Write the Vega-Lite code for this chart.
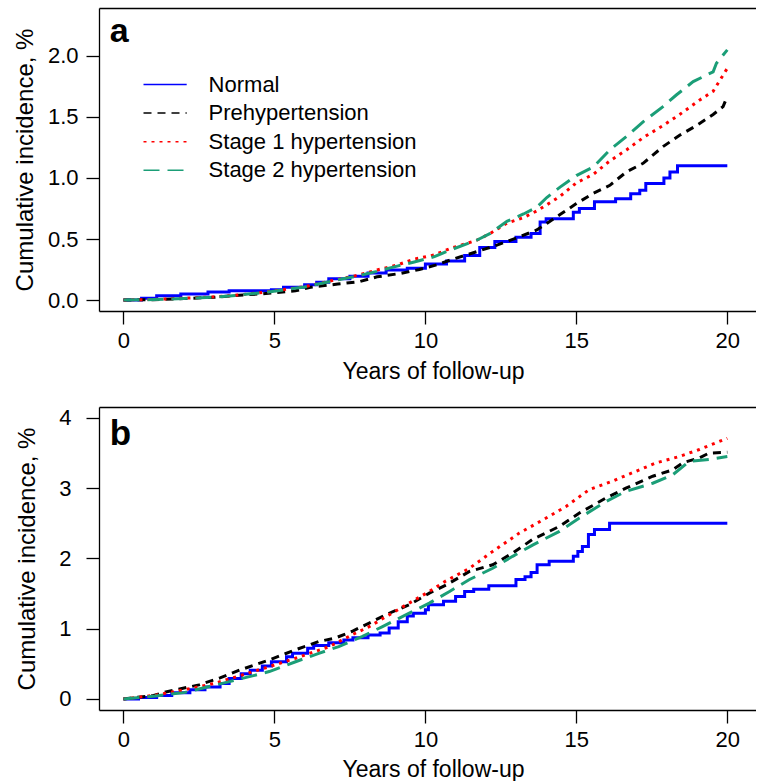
{
  "$schema": "https://vega.github.io/schema/vega-lite/v6.json",
  "padding": {"left": 13, "top": 8, "right": 0, "bottom": 0},
  "config": {
    "font": "Liberation Sans",
    "view": {"stroke": null},
    "axis": {"grid": false, "domainColor": "black", "domainWidth": 1.3, "tickColor": "black", "tickWidth": 1.3, "tickSize": 13, "labelColor": "black", "labelFontSize": 22, "titleColor": "black", "titleFontSize": 23, "titleFontWeight": "normal", "labelFlush": false}
  },
  "datasets": {
    "a": [
      {"group": "Normal", "year": 0, "inc": 0}, {"group": "Normal", "year": 0.6, "inc": 0.014}, {"group": "Normal", "year": 1.1, "inc": 0.035}, {"group": "Normal", "year": 1.9, "inc": 0.05}, {"group": "Normal", "year": 2.8, "inc": 0.065}, {"group": "Normal", "year": 3.5, "inc": 0.076}, {"group": "Normal", "year": 4.9, "inc": 0.085}, {"group": "Normal", "year": 5.3, "inc": 0.105}, {"group": "Normal", "year": 6.0, "inc": 0.125}, {"group": "Normal", "year": 6.4, "inc": 0.145}, {"group": "Normal", "year": 6.8, "inc": 0.175}, {"group": "Normal", "year": 7.5, "inc": 0.195}, {"group": "Normal", "year": 8.1, "inc": 0.222}, {"group": "Normal", "year": 8.7, "inc": 0.245}, {"group": "Normal", "year": 9.4, "inc": 0.26}, {"group": "Normal", "year": 10.0, "inc": 0.295}, {"group": "Normal", "year": 10.7, "inc": 0.32}, {"group": "Normal", "year": 11.3, "inc": 0.365}, {"group": "Normal", "year": 11.8, "inc": 0.43}, {"group": "Normal", "year": 12.3, "inc": 0.48}, {"group": "Normal", "year": 13.0, "inc": 0.515}, {"group": "Normal", "year": 13.5, "inc": 0.545}, {"group": "Normal", "year": 13.8, "inc": 0.64}, {"group": "Normal", "year": 14.0, "inc": 0.665}, {"group": "Normal", "year": 14.9, "inc": 0.72}, {"group": "Normal", "year": 15.1, "inc": 0.75}, {"group": "Normal", "year": 15.6, "inc": 0.805}, {"group": "Normal", "year": 16.3, "inc": 0.83}, {"group": "Normal", "year": 16.8, "inc": 0.87}, {"group": "Normal", "year": 17.1, "inc": 0.9}, {"group": "Normal", "year": 17.3, "inc": 0.955}, {"group": "Normal", "year": 17.9, "inc": 1.0}, {"group": "Normal", "year": 18.1, "inc": 1.05}, {"group": "Normal", "year": 18.35, "inc": 1.1}, {"group": "Normal", "year": 20, "inc": 1.1},
      {"group": "Prehypertension", "year": 0, "inc": 0}, {"group": "Prehypertension", "year": 1, "inc": 0.003}, {"group": "Prehypertension", "year": 2, "inc": 0.012}, {"group": "Prehypertension", "year": 3, "inc": 0.022}, {"group": "Prehypertension", "year": 3.5, "inc": 0.033}, {"group": "Prehypertension", "year": 4.8, "inc": 0.055}, {"group": "Prehypertension", "year": 5.7, "inc": 0.076}, {"group": "Prehypertension", "year": 6.2, "inc": 0.105}, {"group": "Prehypertension", "year": 7.1, "inc": 0.131}, {"group": "Prehypertension", "year": 7.8, "inc": 0.15}, {"group": "Prehypertension", "year": 8.4, "inc": 0.19}, {"group": "Prehypertension", "year": 9.2, "inc": 0.219}, {"group": "Prehypertension", "year": 9.8, "inc": 0.25}, {"group": "Prehypertension", "year": 10.4, "inc": 0.29}, {"group": "Prehypertension", "year": 10.83, "inc": 0.328}, {"group": "Prehypertension", "year": 11.7, "inc": 0.396}, {"group": "Prehypertension", "year": 12.37, "inc": 0.45}, {"group": "Prehypertension", "year": 13.14, "inc": 0.52}, {"group": "Prehypertension", "year": 13.69, "inc": 0.574}, {"group": "Prehypertension", "year": 14.02, "inc": 0.628}, {"group": "Prehypertension", "year": 14.46, "inc": 0.7}, {"group": "Prehypertension", "year": 15.0, "inc": 0.79}, {"group": "Prehypertension", "year": 15.56, "inc": 0.874}, {"group": "Prehypertension", "year": 16.11, "inc": 0.94}, {"group": "Prehypertension", "year": 16.66, "inc": 1.05}, {"group": "Prehypertension", "year": 17.21, "inc": 1.12}, {"group": "Prehypertension", "year": 17.87, "inc": 1.257}, {"group": "Prehypertension", "year": 18.42, "inc": 1.35}, {"group": "Prehypertension", "year": 18.98, "inc": 1.43}, {"group": "Prehypertension", "year": 19.53, "inc": 1.52}, {"group": "Prehypertension", "year": 19.86, "inc": 1.585}, {"group": "Prehypertension", "year": 20, "inc": 1.67},
      {"group": "Stage 1 hypertension", "year": 0, "inc": 0}, {"group": "Stage 1 hypertension", "year": 1, "inc": 0.005}, {"group": "Stage 1 hypertension", "year": 2, "inc": 0.015}, {"group": "Stage 1 hypertension", "year": 3, "inc": 0.026}, {"group": "Stage 1 hypertension", "year": 3.5, "inc": 0.033}, {"group": "Stage 1 hypertension", "year": 4.8, "inc": 0.068}, {"group": "Stage 1 hypertension", "year": 6.0, "inc": 0.109}, {"group": "Stage 1 hypertension", "year": 7.0, "inc": 0.164}, {"group": "Stage 1 hypertension", "year": 7.8, "inc": 0.205}, {"group": "Stage 1 hypertension", "year": 8.4, "inc": 0.246}, {"group": "Stage 1 hypertension", "year": 9.1, "inc": 0.29}, {"group": "Stage 1 hypertension", "year": 9.6, "inc": 0.333}, {"group": "Stage 1 hypertension", "year": 10.3, "inc": 0.37}, {"group": "Stage 1 hypertension", "year": 10.83, "inc": 0.423}, {"group": "Stage 1 hypertension", "year": 11.7, "inc": 0.49}, {"group": "Stage 1 hypertension", "year": 12.15, "inc": 0.546}, {"group": "Stage 1 hypertension", "year": 12.7, "inc": 0.63}, {"group": "Stage 1 hypertension", "year": 13.25, "inc": 0.675}, {"group": "Stage 1 hypertension", "year": 13.69, "inc": 0.73}, {"group": "Stage 1 hypertension", "year": 14.02, "inc": 0.78}, {"group": "Stage 1 hypertension", "year": 14.46, "inc": 0.85}, {"group": "Stage 1 hypertension", "year": 15.0, "inc": 0.96}, {"group": "Stage 1 hypertension", "year": 15.56, "inc": 1.03}, {"group": "Stage 1 hypertension", "year": 16.11, "inc": 1.14}, {"group": "Stage 1 hypertension", "year": 16.66, "inc": 1.23}, {"group": "Stage 1 hypertension", "year": 17.21, "inc": 1.33}, {"group": "Stage 1 hypertension", "year": 17.87, "inc": 1.43}, {"group": "Stage 1 hypertension", "year": 18.42, "inc": 1.52}, {"group": "Stage 1 hypertension", "year": 19.09, "inc": 1.64}, {"group": "Stage 1 hypertension", "year": 19.53, "inc": 1.71}, {"group": "Stage 1 hypertension", "year": 20, "inc": 1.9},
      {"group": "Stage 2 hypertension", "year": 0, "inc": 0}, {"group": "Stage 2 hypertension", "year": 1, "inc": 0.004}, {"group": "Stage 2 hypertension", "year": 2, "inc": 0.013}, {"group": "Stage 2 hypertension", "year": 3, "inc": 0.024}, {"group": "Stage 2 hypertension", "year": 3.5, "inc": 0.032}, {"group": "Stage 2 hypertension", "year": 4.8, "inc": 0.066}, {"group": "Stage 2 hypertension", "year": 6.0, "inc": 0.107}, {"group": "Stage 2 hypertension", "year": 7.0, "inc": 0.16}, {"group": "Stage 2 hypertension", "year": 7.8, "inc": 0.2}, {"group": "Stage 2 hypertension", "year": 8.4, "inc": 0.235}, {"group": "Stage 2 hypertension", "year": 9.1, "inc": 0.28}, {"group": "Stage 2 hypertension", "year": 9.6, "inc": 0.31}, {"group": "Stage 2 hypertension", "year": 10.3, "inc": 0.355}, {"group": "Stage 2 hypertension", "year": 10.83, "inc": 0.41}, {"group": "Stage 2 hypertension", "year": 11.7, "inc": 0.49}, {"group": "Stage 2 hypertension", "year": 12.15, "inc": 0.546}, {"group": "Stage 2 hypertension", "year": 12.7, "inc": 0.645}, {"group": "Stage 2 hypertension", "year": 13.25, "inc": 0.705}, {"group": "Stage 2 hypertension", "year": 13.69, "inc": 0.76}, {"group": "Stage 2 hypertension", "year": 14.02, "inc": 0.84}, {"group": "Stage 2 hypertension", "year": 14.46, "inc": 0.925}, {"group": "Stage 2 hypertension", "year": 15.0, "inc": 1.02}, {"group": "Stage 2 hypertension", "year": 15.56, "inc": 1.09}, {"group": "Stage 2 hypertension", "year": 16.11, "inc": 1.23}, {"group": "Stage 2 hypertension", "year": 16.66, "inc": 1.34}, {"group": "Stage 2 hypertension", "year": 17.21, "inc": 1.46}, {"group": "Stage 2 hypertension", "year": 17.87, "inc": 1.585}, {"group": "Stage 2 hypertension", "year": 18.31, "inc": 1.68}, {"group": "Stage 2 hypertension", "year": 18.87, "inc": 1.79}, {"group": "Stage 2 hypertension", "year": 19.53, "inc": 1.87}, {"group": "Stage 2 hypertension", "year": 19.64, "inc": 1.94}, {"group": "Stage 2 hypertension", "year": 20, "inc": 2.05}
    ],
    "b": [
      {"group": "Normal", "year": 0, "inc": 0}, {"group": "Normal", "year": 0.5, "inc": 0.02}, {"group": "Normal", "year": 1.1, "inc": 0.05}, {"group": "Normal", "year": 1.6, "inc": 0.09}, {"group": "Normal", "year": 2.2, "inc": 0.13}, {"group": "Normal", "year": 2.7, "inc": 0.17}, {"group": "Normal", "year": 3.2, "inc": 0.22}, {"group": "Normal", "year": 3.5, "inc": 0.29}, {"group": "Normal", "year": 3.9, "inc": 0.36}, {"group": "Normal", "year": 4.2, "inc": 0.41}, {"group": "Normal", "year": 4.6, "inc": 0.47}, {"group": "Normal", "year": 4.9, "inc": 0.53}, {"group": "Normal", "year": 5.4, "inc": 0.6}, {"group": "Normal", "year": 5.6, "inc": 0.65}, {"group": "Normal", "year": 6.1, "inc": 0.72}, {"group": "Normal", "year": 6.3, "inc": 0.76}, {"group": "Normal", "year": 6.8, "inc": 0.8}, {"group": "Normal", "year": 7.3, "inc": 0.84}, {"group": "Normal", "year": 7.6, "inc": 0.87}, {"group": "Normal", "year": 8.1, "inc": 0.91}, {"group": "Normal", "year": 8.5, "inc": 0.94}, {"group": "Normal", "year": 8.8, "inc": 1.01}, {"group": "Normal", "year": 9.1, "inc": 1.1}, {"group": "Normal", "year": 9.4, "inc": 1.18}, {"group": "Normal", "year": 9.6, "inc": 1.22}, {"group": "Normal", "year": 10.0, "inc": 1.27}, {"group": "Normal", "year": 10.1, "inc": 1.34}, {"group": "Normal", "year": 10.6, "inc": 1.39}, {"group": "Normal", "year": 11.0, "inc": 1.46}, {"group": "Normal", "year": 11.3, "inc": 1.53}, {"group": "Normal", "year": 11.6, "inc": 1.56}, {"group": "Normal", "year": 12.1, "inc": 1.61}, {"group": "Normal", "year": 13.0, "inc": 1.7}, {"group": "Normal", "year": 13.3, "inc": 1.74}, {"group": "Normal", "year": 13.5, "inc": 1.8}, {"group": "Normal", "year": 13.7, "inc": 1.91}, {"group": "Normal", "year": 14.1, "inc": 1.96}, {"group": "Normal", "year": 14.9, "inc": 2.03}, {"group": "Normal", "year": 15.05, "inc": 2.1}, {"group": "Normal", "year": 15.2, "inc": 2.17}, {"group": "Normal", "year": 15.4, "inc": 2.34}, {"group": "Normal", "year": 15.6, "inc": 2.41}, {"group": "Normal", "year": 16.1, "inc": 2.5}, {"group": "Normal", "year": 20, "inc": 2.5},
      {"group": "Prehypertension", "year": 0, "inc": 0}, {"group": "Prehypertension", "year": 1, "inc": 0.05}, {"group": "Prehypertension", "year": 1.4, "inc": 0.1}, {"group": "Prehypertension", "year": 2.5, "inc": 0.2}, {"group": "Prehypertension", "year": 3.2, "inc": 0.3}, {"group": "Prehypertension", "year": 3.84, "inc": 0.41}, {"group": "Prehypertension", "year": 4.83, "inc": 0.556}, {"group": "Prehypertension", "year": 5.7, "inc": 0.7}, {"group": "Prehypertension", "year": 6.47, "inc": 0.817}, {"group": "Prehypertension", "year": 7.0, "inc": 0.865}, {"group": "Prehypertension", "year": 7.56, "inc": 0.96}, {"group": "Prehypertension", "year": 8.14, "inc": 1.08}, {"group": "Prehypertension", "year": 8.8, "inc": 1.22}, {"group": "Prehypertension", "year": 9.46, "inc": 1.34}, {"group": "Prehypertension", "year": 10.13, "inc": 1.506}, {"group": "Prehypertension", "year": 10.68, "inc": 1.62}, {"group": "Prehypertension", "year": 11.46, "inc": 1.815}, {"group": "Prehypertension", "year": 12.23, "inc": 1.91}, {"group": "Prehypertension", "year": 12.89, "inc": 2.076}, {"group": "Prehypertension", "year": 13.55, "inc": 2.27}, {"group": "Prehypertension", "year": 14.44, "inc": 2.456}, {"group": "Prehypertension", "year": 15.1, "inc": 2.646}, {"group": "Prehypertension", "year": 15.98, "inc": 2.86}, {"group": "Prehypertension", "year": 16.64, "inc": 3.0}, {"group": "Prehypertension", "year": 17.53, "inc": 3.17}, {"group": "Prehypertension", "year": 18.19, "inc": 3.26}, {"group": "Prehypertension", "year": 18.52, "inc": 3.36}, {"group": "Prehypertension", "year": 19.07, "inc": 3.43}, {"group": "Prehypertension", "year": 19.4, "inc": 3.5}, {"group": "Prehypertension", "year": 20, "inc": 3.51},
      {"group": "Stage 1 hypertension", "year": 0, "inc": 0}, {"group": "Stage 1 hypertension", "year": 1, "inc": 0.05}, {"group": "Stage 1 hypertension", "year": 2, "inc": 0.13}, {"group": "Stage 1 hypertension", "year": 3, "inc": 0.22}, {"group": "Stage 1 hypertension", "year": 4, "inc": 0.35}, {"group": "Stage 1 hypertension", "year": 4.83, "inc": 0.46}, {"group": "Stage 1 hypertension", "year": 5.7, "inc": 0.58}, {"group": "Stage 1 hypertension", "year": 6.82, "inc": 0.745}, {"group": "Stage 1 hypertension", "year": 7.56, "inc": 0.91}, {"group": "Stage 1 hypertension", "year": 8.14, "inc": 1.03}, {"group": "Stage 1 hypertension", "year": 8.8, "inc": 1.197}, {"group": "Stage 1 hypertension", "year": 9.46, "inc": 1.364}, {"group": "Stage 1 hypertension", "year": 10.13, "inc": 1.53}, {"group": "Stage 1 hypertension", "year": 10.68, "inc": 1.68}, {"group": "Stage 1 hypertension", "year": 11.46, "inc": 1.86}, {"group": "Stage 1 hypertension", "year": 12.23, "inc": 2.1}, {"group": "Stage 1 hypertension", "year": 13.11, "inc": 2.36}, {"group": "Stage 1 hypertension", "year": 14, "inc": 2.575}, {"group": "Stage 1 hypertension", "year": 14.66, "inc": 2.74}, {"group": "Stage 1 hypertension", "year": 15.43, "inc": 2.98}, {"group": "Stage 1 hypertension", "year": 16.2, "inc": 3.1}, {"group": "Stage 1 hypertension", "year": 16.86, "inc": 3.22}, {"group": "Stage 1 hypertension", "year": 17.64, "inc": 3.36}, {"group": "Stage 1 hypertension", "year": 18.41, "inc": 3.45}, {"group": "Stage 1 hypertension", "year": 19.07, "inc": 3.55}, {"group": "Stage 1 hypertension", "year": 20, "inc": 3.71},
      {"group": "Stage 2 hypertension", "year": 0, "inc": 0}, {"group": "Stage 2 hypertension", "year": 1, "inc": 0.04}, {"group": "Stage 2 hypertension", "year": 2, "inc": 0.09}, {"group": "Stage 2 hypertension", "year": 3.51, "inc": 0.247}, {"group": "Stage 2 hypertension", "year": 4.17, "inc": 0.318}, {"group": "Stage 2 hypertension", "year": 4.83, "inc": 0.39}, {"group": "Stage 2 hypertension", "year": 5.7, "inc": 0.53}, {"group": "Stage 2 hypertension", "year": 6.47, "inc": 0.65}, {"group": "Stage 2 hypertension", "year": 7.13, "inc": 0.745}, {"group": "Stage 2 hypertension", "year": 7.9, "inc": 0.888}, {"group": "Stage 2 hypertension", "year": 8.58, "inc": 1.03}, {"group": "Stage 2 hypertension", "year": 9.35, "inc": 1.197}, {"group": "Stage 2 hypertension", "year": 10.13, "inc": 1.364}, {"group": "Stage 2 hypertension", "year": 10.8, "inc": 1.53}, {"group": "Stage 2 hypertension", "year": 11.46, "inc": 1.7}, {"group": "Stage 2 hypertension", "year": 12.23, "inc": 1.86}, {"group": "Stage 2 hypertension", "year": 12.89, "inc": 2.03}, {"group": "Stage 2 hypertension", "year": 13.55, "inc": 2.19}, {"group": "Stage 2 hypertension", "year": 14.44, "inc": 2.385}, {"group": "Stage 2 hypertension", "year": 15.1, "inc": 2.575}, {"group": "Stage 2 hypertension", "year": 15.98, "inc": 2.81}, {"group": "Stage 2 hypertension", "year": 16.64, "inc": 2.955}, {"group": "Stage 2 hypertension", "year": 17.53, "inc": 3.07}, {"group": "Stage 2 hypertension", "year": 18.19, "inc": 3.19}, {"group": "Stage 2 hypertension", "year": 18.74, "inc": 3.38}, {"group": "Stage 2 hypertension", "year": 19.4, "inc": 3.41}, {"group": "Stage 2 hypertension", "year": 20, "inc": 3.45}
    ]
  },
  "spacing": 96,
  "bounds": "flush",
  "resolve": {"legend": {"color": "independent", "strokeDash": "independent"}},
  "vconcat": [
    {
      "width": 657,
      "height": 303,
      "layer": [
        {
          "data": {"name": "a"},
          "transform": [{"filter": "datum.group === 'Normal'"}],
          "mark": {"type": "line", "interpolate": "step-after", "strokeWidth": 3},
          "encoding": {
            "x": {"field": "year", "type": "quantitative", "scale": {"domain": [-0.81, 20.95], "nice": false, "zero": false}, "axis": {"orient": "top", "domain": true, "ticks": false, "labels": false, "title": null}},
            "y": {"field": "inc", "type": "quantitative", "scale": {"domain": [-0.09, 2.393], "nice": false, "zero": false}, "axis": {"orient": "left", "values": [0, 0.5, 1, 1.5, 2], "format": ".1f", "labelPadding": 8, "title": "Cumulative incidence, %", "titleFontSize": 24, "titlePadding": 10}},
            "color": {"field": "group", "type": "nominal", "scale": {"domain": ["Normal", "Prehypertension", "Stage 1 hypertension", "Stage 2 hypertension"], "range": ["#0000FF", "#000000", "#FF0000", "#1B9E77"]}, "legend": {"orient": "none", "legendX": 51.6, "legendY": 62, "title": null, "labelFontSize": 22, "labelColor": "black", "symbolType": "M-1.6,0H1.6", "symbolSize": 729, "symbolStrokeWidth": 1.5, "labelOffset": 29, "rowPadding": 2.6, "padding": 0, "labelLimit": 0}},
            "strokeDash": {"field": "group", "type": "nominal", "scale": {"domain": ["Normal", "Prehypertension", "Stage 1 hypertension", "Stage 2 hypertension"], "range": [[1, 0], [8, 6], [3, 5], [16, 8]]}, "legend": {"orient": "none", "legendX": 51.6, "legendY": 62, "title": null, "labelFontSize": 22, "labelColor": "black", "symbolType": "M-1.6,0H1.6", "symbolSize": 729, "symbolStrokeWidth": 1.5, "labelOffset": 29, "rowPadding": 2.6, "padding": 0, "labelLimit": 0}}
          }
        },
        {
          "data": {"name": "a"},
          "transform": [{"filter": "datum.group !== 'Normal'"}],
          "mark": {"type": "line", "strokeWidth": 3},
          "encoding": {
            "x": {"field": "year", "type": "quantitative", "axis": {"orient": "bottom", "values": [0, 5, 10, 15, 20], "labelPadding": 6, "title": "Years of follow-up", "titleX": 334, "titleY": 67, "titleBaseline": "alphabetic"}},
            "y": {"field": "inc", "type": "quantitative", "axis": null},
            "color": {"field": "group", "type": "nominal"},
            "strokeDash": {"field": "group", "type": "nominal"}
          }
        },
        {
          "data": {"values": [{}]},
          "mark": {"type": "text", "text": "a", "fontSize": 34, "fontWeight": "bold", "align": "left", "baseline": "alphabetic", "color": "black"},
          "encoding": {
            "x": {"datum": -0.45, "type": "quantitative", "axis": null},
            "y": {"datum": 2.117, "type": "quantitative", "axis": null}
          }
        }
      ],
      "resolve": {"axis": {"x": "independent", "y": "independent"}}
    },
    {
      "width": 657,
      "height": 303,
      "layer": [
        {
          "data": {"name": "b"},
          "transform": [{"filter": "datum.group === 'Normal'"}],
          "mark": {"type": "line", "interpolate": "step-after", "strokeWidth": 3},
          "encoding": {
            "x": {"field": "year", "type": "quantitative", "scale": {"domain": [-0.81, 20.95], "nice": false, "zero": false}, "axis": {"orient": "top", "domain": true, "ticks": false, "labels": false, "title": null}},
            "y": {"field": "inc", "type": "quantitative", "scale": {"domain": [-0.157, 4.155], "nice": false, "zero": false}, "axis": {"orient": "left", "values": [0, 1, 2, 3, 4], "format": "d", "labelPadding": 15, "title": "Cumulative incidence, %", "titleFontSize": 24, "titlePadding": 19}},
            "color": {"field": "group", "type": "nominal", "scale": {"domain": ["Normal", "Prehypertension", "Stage 1 hypertension", "Stage 2 hypertension"], "range": ["#0000FF", "#000000", "#FF0000", "#1B9E77"]}, "legend": null},
            "strokeDash": {"field": "group", "type": "nominal", "scale": {"domain": ["Normal", "Prehypertension", "Stage 1 hypertension", "Stage 2 hypertension"], "range": [[1, 0], [8, 6], [3, 5], [16, 8]]}, "legend": null}
          }
        },
        {
          "data": {"name": "b"},
          "transform": [{"filter": "datum.group !== 'Normal'"}],
          "mark": {"type": "line", "strokeWidth": 3},
          "encoding": {
            "x": {"field": "year", "type": "quantitative", "axis": {"orient": "bottom", "values": [0, 5, 10, 15, 20], "labelPadding": 6, "title": "Years of follow-up", "titleX": 334, "titleY": 66, "titleBaseline": "alphabetic"}},
            "y": {"field": "inc", "type": "quantitative", "axis": null},
            "color": {"field": "group", "type": "nominal", "legend": null},
            "strokeDash": {"field": "group", "type": "nominal", "legend": null}
          }
        },
        {
          "data": {"values": [{}]},
          "mark": {"type": "text", "text": "b", "fontSize": 35, "fontWeight": "bold", "align": "left", "baseline": "alphabetic", "color": "black"},
          "encoding": {
            "x": {"datum": -0.45, "type": "quantitative", "axis": null},
            "y": {"datum": 3.62, "type": "quantitative", "axis": null}
          }
        }
      ],
      "resolve": {"axis": {"x": "independent", "y": "independent"}}
    }
  ]
}
